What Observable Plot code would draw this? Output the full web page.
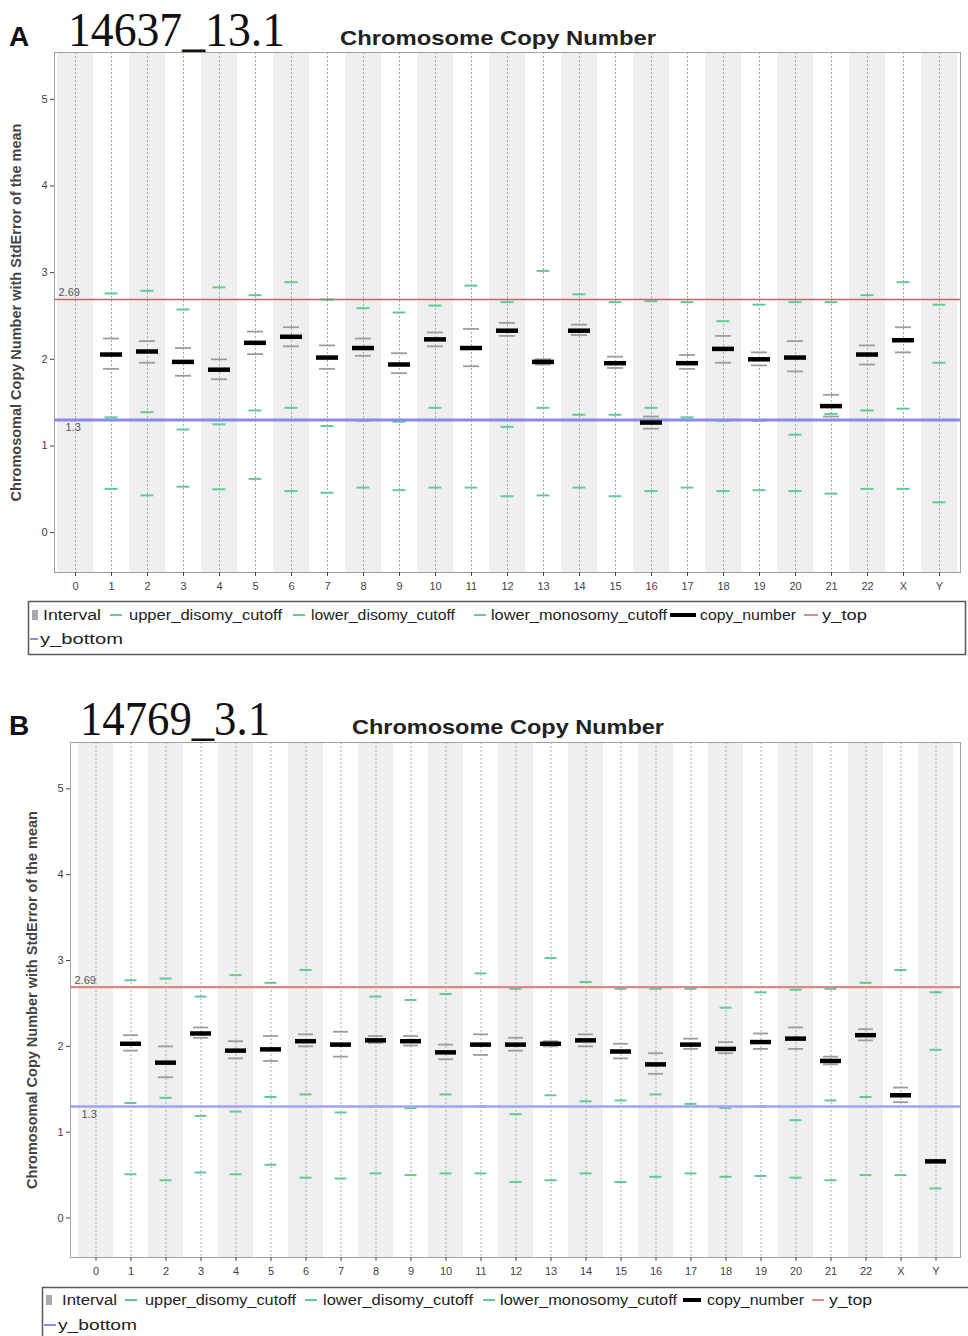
<!DOCTYPE html>
<html><head><meta charset="utf-8">
<script src="https://cdn.jsdelivr.net/npm/d3@7"></script>
<script src="https://cdn.jsdelivr.net/npm/@observablehq/plot@0.6"></script>
<style>
body{margin:0;background:#fff}
#root{position:relative;width:968px;height:1336px;overflow:hidden;font-family:"Liberation Sans",Arial,sans-serif}
.abs{position:absolute;left:0}
</style>
</head><body><div id="root"></div>
<script>
// ---------- data ----------
const chroms = ["0","1","2","3","4","5","6","7","8","9","10","11","12","13","14","15","16","17","18","19","20","21","22","X","Y"];
const yTicks = [0,1,2,3,4,5];
const yDomain = [-0.46, 5.54];
const yTop = 2.69;
const yBottom = 1.3;
const yLabel = "Chromosomal Copy Number with StdError of the mean";
const chartTitle = "Chromosome Copy Number";
const legendLabels = ["Interval","upper_disomy_cutoff","lower_disomy_cutoff","lower_monosomy_cutoff","copy_number","y_top","y_bottom"];

// Panel A : 14637_13.1
const sampleA = "14637_13.1";
const copyA  = [null,2.055,2.09,1.97,1.88,2.19,2.26,2.02,2.13,1.94,2.23,2.13,2.33,1.97,2.33,1.955,1.27,1.955,2.12,2.00,2.02,1.46,2.055,2.22,null];
const hiA    = [null,2.24,2.21,2.13,2.00,2.32,2.37,2.16,2.24,2.07,2.31,2.35,2.42,2.00,2.40,2.03,1.34,2.05,2.27,2.08,2.21,1.59,2.16,2.37,null];
const loA    = [null,1.89,1.96,1.81,1.77,2.06,2.15,1.89,2.04,1.84,2.15,1.92,2.27,1.94,2.28,1.90,1.20,1.89,1.96,1.93,1.86,1.34,1.94,2.08,null];
const upA    = [null,2.76,2.79,2.575,2.83,2.74,2.89,2.69,2.59,2.54,2.62,2.85,2.66,3.02,2.75,2.66,2.67,2.66,2.44,2.63,2.66,2.66,2.74,2.89,2.63];
const ldA    = [null,1.33,1.39,1.19,1.25,1.41,1.44,1.23,1.29,1.28,1.44,1.30,1.22,1.44,1.36,1.36,1.44,1.33,1.29,1.29,1.13,1.37,1.41,1.43,1.96];
const monoA  = [null,0.505,0.43,0.53,0.50,0.62,0.48,0.46,0.52,0.49,0.52,0.52,0.42,0.43,0.52,0.42,0.48,0.52,0.48,0.49,0.48,0.45,0.505,0.505,0.35];

// Panel B : 14769_3.1
const sampleB = "14769_3.1";
const copyB  = [null,2.03,1.81,2.15,1.95,1.965,2.06,2.02,2.07,2.06,1.93,2.02,2.02,2.03,2.07,1.94,1.79,2.02,1.97,2.05,2.09,1.83,2.13,1.43,0.66];
const hiB    = [null,2.13,2.00,2.22,2.06,2.12,2.14,2.17,2.12,2.12,2.02,2.14,2.10,2.06,2.14,2.03,1.92,2.09,2.05,2.15,2.22,1.88,2.20,1.52,null];
const loB    = [null,1.95,1.64,2.10,1.86,1.83,2.00,1.88,2.04,2.01,1.85,1.90,1.95,2.00,2.00,1.86,1.68,1.97,1.92,1.97,1.97,1.79,2.07,1.35,null];
const upB    = [null,2.77,2.79,2.58,2.83,2.74,2.89,2.69,2.58,2.54,2.61,2.85,2.67,3.03,2.75,2.67,2.67,2.67,2.45,2.63,2.66,2.67,2.74,2.89,2.63];
const ldB    = [null,1.34,1.40,1.19,1.24,1.41,1.44,1.23,1.30,1.28,1.44,1.30,1.21,1.43,1.36,1.37,1.44,1.33,1.28,1.30,1.14,1.37,1.41,1.43,1.96];
const monoB  = [null,0.51,0.44,0.53,0.51,0.62,0.47,0.46,0.52,0.50,0.52,0.52,0.42,0.44,0.52,0.42,0.48,0.52,0.48,0.49,0.47,0.44,0.50,0.50,0.345];

// ---------- drawing ----------
const GREEN = "#63c99a";
function drawPanel(o) {
  const rows = chroms.map((c, i) => ({chrom: c, copy: o.copy[i], hi: o.hi[i], lo: o.lo[i], up: o.up[i], ld: o.ld[i], mono: o.mono[i]}));
  const def = k => rows.filter(d => d[k] != null);
  const green = k => Plot.tickY(def(k), {x: "chrom", y: k, stroke: GREEN, strokeWidth: 2, inset: 11.5});
  const grey = k => Plot.tickY(def(k), {x: "chrom", y: k, stroke: "#9c9c9c", strokeWidth: 1.8, inset: 10});
  return Plot.plot({
    width: 968, height: o.height,
    marginLeft: o.ml, marginRight: 8, marginTop: 12, marginBottom: 30,
    x: {type: "band", domain: chroms, padding: 0, axis: null},
    y: {domain: yDomain, axis: null},
    style: {fontFamily: "Liberation Sans, Arial, sans-serif", background: "transparent", overflow: "visible"},
    marks: [
      Plot.cell(chroms.filter((c, i) => i % 2 === 0), {x: d => d, fill: "#efefef"}),
      Plot.ruleX(chroms, {x: d => d, stroke: "#a8a8a8", strokeDasharray: "2,2", strokeWidth: 1}),
      grey("hi"), grey("lo"),
      green("up"), green("ld"), green("mono"),
      Plot.ruleY([yTop], {stroke: o.topColor, strokeWidth: o.topW}),
      Plot.ruleY([yBottom], {stroke: o.botColor, strokeWidth: o.botW}),
      Plot.tickY(def("copy"), {x: "chrom", y: "copy", stroke: "#000", strokeWidth: 4.5, inset: 7}),
      Plot.text([yTop], {y: d => d, text: d => String(d), frameAnchor: "left", textAnchor: "start", dx: 4, dy: -7, fill: "#555", fontSize: 11}),
      Plot.text([yBottom], {y: d => d, text: d => String(d), frameAnchor: "left", textAnchor: "start", dx: 11, dy: 8, fill: "#555", fontSize: 11}),
      Plot.frame({stroke: "#a0a0a0"}),
      Plot.axisY({ticks: yTicks, tickFormat: d => String(d), tickSize: 4, tickPadding: 3, fontSize: 11, color: "#444", label: null}),
      Plot.axisX({tickSize: 4, tickPadding: 6, fontSize: 11, color: "#444", label: null}),
      Plot.text([yLabel], {frameAnchor: "left", textAnchor: "middle", rotate: -90, dx: -38, fontSize: 14.5, fontWeight: "bold", fill: "#444", text: d => d})
    ]
  });
}

const root = document.getElementById("root");
function place(node, top) {
  node.classList.add("abs");
  node.style.top = top + "px";
  root.appendChild(node);
}
place(drawPanel({copy: copyA, hi: hiA, lo: loA, up: upA, ld: ldA, mono: monoA, height: 562, ml: 54,
  topColor: "#cc6262", topW: 1.5, botColor: "#8a8ae8", botW: 3}), 40);
place(drawPanel({copy: copyB, hi: hiB, lo: loB, up: upB, ld: ldB, mono: monoB, height: 557, ml: 70,
  topColor: "#dc8888", topW: 2.2, botColor: "#a2a2f2", botW: 2.5}), 730);

// ---------- header + legend overlay ----------
const svg = d3.create("svg").attr("width", 968).attr("height", 1336)
  .style("position", "absolute").style("left", "0px").style("top", "0px").style("pointer-events", "none");

function header(letter, sample, y, sx, sLen, tx, tLen) {
  svg.append("text").attr("x", 9).attr("y", y).attr("font-family", "Liberation Sans, Arial, sans-serif")
    .attr("font-weight", "bold").attr("font-size", 28).attr("fill", "#111").text(letter);
  svg.append("text").attr("x", sx).attr("y", y).attr("font-family", "Liberation Serif, Times New Roman, serif")
    .attr("font-size", 48).attr("fill", "#111").attr("textLength", sLen).attr("lengthAdjust", "spacingAndGlyphs").text(sample);
  svg.append("text").attr("x", tx).attr("y", y - 1).attr("font-family", "Liberation Sans, Arial, sans-serif")
    .attr("font-weight", "bold").attr("font-size", 21).attr("fill", "#222").attr("textLength", tLen).attr("lengthAdjust", "spacingAndGlyphs").text(chartTitle);
}
header("A", sampleA, 46, 68, 217, 340, 316);
header("B", sampleB, 735, 80, 190, 352, 312);

function legend(box, r1, r2, pos) {
  svg.append("rect").attr("x", box[0]).attr("y", box[1]).attr("width", box[2]).attr("height", box[3])
    .attr("fill", "#fff").attr("stroke", "#5a5a5a").attr("stroke-width", 1.5);
  const txt = (x, y, len, s) => svg.append("text").attr("x", x).attr("y", y + 5).attr("font-family", "Liberation Sans, Arial, sans-serif")
    .attr("font-size", 14).attr("fill", "#222").attr("textLength", len).attr("lengthAdjust", "spacingAndGlyphs").text(s);
  const line = (x1, x2, y, c, w) => svg.append("line").attr("x1", x1).attr("x2", x2).attr("y1", y).attr("y2", y).attr("stroke", c).attr("stroke-width", w);
  svg.append("rect").attr("x", pos[0]).attr("y", r1 - 5).attr("width", 6).attr("height", 10).attr("fill", "#aaa");
  txt(pos[1], r1, pos[2], legendLabels[0]);
  line(pos[3], pos[4], r1, GREEN, 2); txt(pos[5], r1, pos[6], legendLabels[1]);
  line(pos[7], pos[8], r1, GREEN, 2); txt(pos[9], r1, pos[10], legendLabels[2]);
  line(pos[11], pos[12], r1, GREEN, 2); txt(pos[13], r1, pos[14], legendLabels[3]);
  line(pos[15], pos[16], r1, "#000", 4); txt(pos[17], r1, pos[18], legendLabels[4]);
  line(pos[19], pos[20], r1, "#e08888", 2); txt(pos[21], r1, pos[22], legendLabels[5]);
  line(pos[23], pos[24], r2, "#8a8ae8", 2); txt(pos[25], r2, pos[26], legendLabels[6]);
}
legend([28.5, 601.5, 937, 53], 615, 639,
  [32, 43, 58, 110, 122, 129, 153, 293, 305, 311, 144, 474, 486, 491, 176, 670, 696, 700, 96, 804, 818, 822, 45, 30, 38, 40, 83]);
legend([42.5, 1287.5, 930, 60], 1300, 1325,
  [46, 62, 55, 125, 137, 145, 151, 305, 317, 323, 150, 483, 495, 500, 177, 683, 701, 707, 97, 812, 824, 829, 43, 44, 56, 58, 79]);

root.appendChild(svg.node());
</script>
</body></html>
